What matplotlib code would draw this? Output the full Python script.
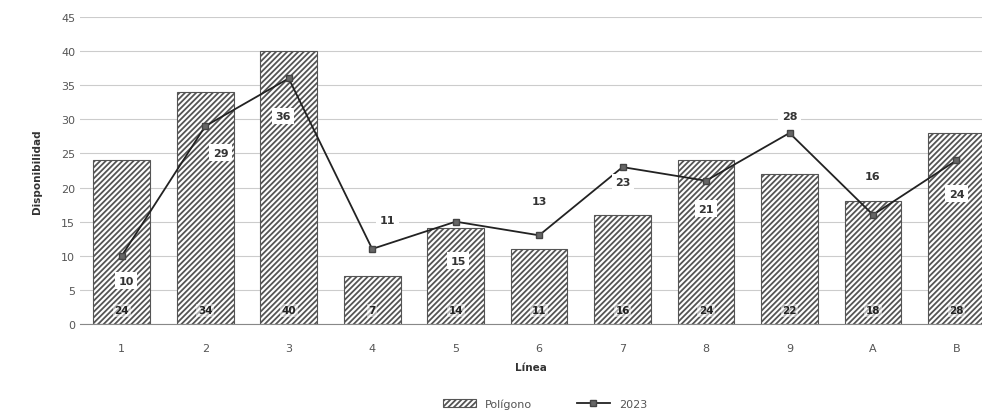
import matplotlib
matplotlib.use('Agg')
from matplotlib import pyplot as plt
import numpy as np

lineas = ['1', '2', '3', '4', '5', '6', '7', '8', '9', 'A', 'B']
poligono = [24, 34, 40, 7, 14, 11, 16, 24, 22, 18, 28]
serie_2023 = [10, 29, 36, 11, 15, 13, 23, 21, 28, 16, 24]

# where each 2023 label sits relative to its point (points)
label_offsets = [(3, -18), (11, -19), (-4, -27), (11, 21), (2, -28), (0, 25),
                 (0, -11), (0, -20), (0, 12), (0, 28), (0, -24)]

plt.rcParams['hatch.color'] = '#3a3a3a'
plt.rcParams['hatch.linewidth'] = 1.3

fig = plt.figure(figsize=(9.82, 4.14), dpi=100)
ax = fig.add_axes([0.0815, 0.215, 0.918, 0.7415])

x = np.arange(len(lineas))
bars = ax.bar(x, poligono, width=0.68, color='white', edgecolor='#555555',
              hatch='//////', linewidth=0.8, label='Polígono', zorder=2)
line, = ax.plot(x, serie_2023, color='#222222', linewidth=1.3, marker='s', markersize=5,
                markerfacecolor='#666666', markeredgecolor='#444444', label='2023', zorder=3)

for xi, v in zip(x, poligono):
    ax.text(xi, 2, str(v), ha='center', va='center', fontsize=7.5, fontweight='bold',
            color='#222222', zorder=4,
            bbox=dict(boxstyle='square,pad=0.15', fc='white', ec='none', alpha=0.5))

for xi, v, off in zip(x, serie_2023, label_offsets):
    ax.annotate(str(v), (xi, v), xytext=off, textcoords='offset points',
                ha='center', va='center', fontsize=8, fontweight='bold', color='#333333',
                zorder=5, bbox=dict(boxstyle='square,pad=0.3', fc='white', ec='none'))

ax.set_ylim(0, 45)
ax.set_yticks(range(0, 46, 5))
ax.set_xlim(-0.5, 10.3)
ax.set_xticks(x)
ax.set_xticklabels(lineas)
ax.tick_params(axis='both', length=0, labelsize=8, colors='#555555')
ax.tick_params(axis='x', pad=14)
ax.grid(axis='y', color='#cccccc', linewidth=0.8, zorder=0)
ax.set_axisbelow(True)
for s in ['top', 'right', 'left']:
    ax.spines[s].set_visible(False)
ax.spines['bottom'].set_color('#888888')

ax.set_xlabel('Línea', fontsize=7.5, fontweight='bold', color='#333333', labelpad=6)
ax.set_ylabel('Disponibilidad', fontsize=7.5, fontweight='bold', color='#333333', labelpad=14)

fig.legend([bars, line], ['Polígono', '2023'], loc='lower center',
           bbox_to_anchor=(0.555, -0.015), ncol=2, frameon=False,
           fontsize=8, labelcolor='#555555', columnspacing=4, handlelength=3)

fig.savefig('out.png', dpi=100)
